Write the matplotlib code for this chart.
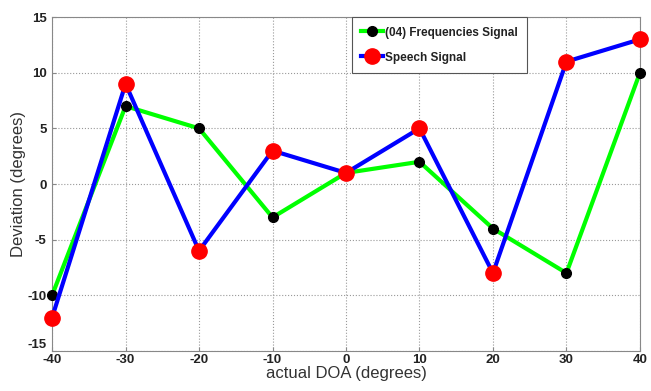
import matplotlib
matplotlib.use("Agg")
import matplotlib.pyplot as plt

doa = [-40, -30, -20, -10, 0, 10, 20, 30, 40]
freq_signal = [-10, 7, 5, -3, 1, 2, -4, -8, 10]
speech_signal = [-12, 9, -6, 3, 1, 5, -8, 11, 13]
xticks = [-40, -30, -20, -10, 0, 10, 20, 30, 40]
yticks = [-15, -10, -5, 0, 5, 10, 15]

plt.rcParams['font.family'] = ['Liberation Sans', 'DejaVu Sans']
plt.rcParams['axes.unicode_minus'] = False

fig = plt.figure(figsize=(6.51, 3.91), dpi=100)
ax = fig.add_axes([0.080, 0.1023, 0.903, 0.854])

ax.plot(doa, freq_signal, color='#00ff00', lw=3.0, marker='o', ms=7,
        mfc='black', mec='black', label='(04) Frequencies Signal', zorder=3,
        clip_on=False)
ax.plot(doa, speech_signal, color='#0000ff', lw=3.0, marker='o', ms=11,
        mfc='red', mec='red', label='Speech Signal', zorder=4, clip_on=False)

ax.set_xlim(-40, 40)
ax.set_ylim(-15, 15)
ax.set_xticks(xticks)
ax.set_yticks(yticks)
ax.tick_params(labelsize=9.5, length=3, direction='in', color='#888888')
ax.tick_params(axis='x', pad=2)
ax.tick_params(axis='y', pad=4)
for lab in ax.get_xticklabels() + ax.get_yticklabels():
    lab.set_fontweight('bold')
    lab.set_color('#222222')
ax.get_yticklabels()[0].set_verticalalignment('bottom')
ax.grid(True, linestyle=':', color='#999999', lw=0.8)
for s in ax.spines.values():
    s.set_color('#888888')

ax.set_xlabel('actual DOA (degrees)', fontsize=12, color='#333333', labelpad=0)
ax.set_ylabel('Deviation (degrees)', fontsize=12, color='#333333', labelpad=1)

leg = ax.legend(loc='upper left', bbox_to_anchor=(0.51, 1.0), borderaxespad=0.0,
                prop={'weight': 'bold', 'size': 8.5}, frameon=True, fancybox=False,
                edgecolor='#555555', handlelength=1.8, borderpad=0.8,
                labelspacing=1.1, handletextpad=0.2, framealpha=1)
leg.get_frame().set_linewidth(0.8)
for t in leg.get_texts():
    t.set_color('#222222')

fig.savefig('out.png', dpi=100)
